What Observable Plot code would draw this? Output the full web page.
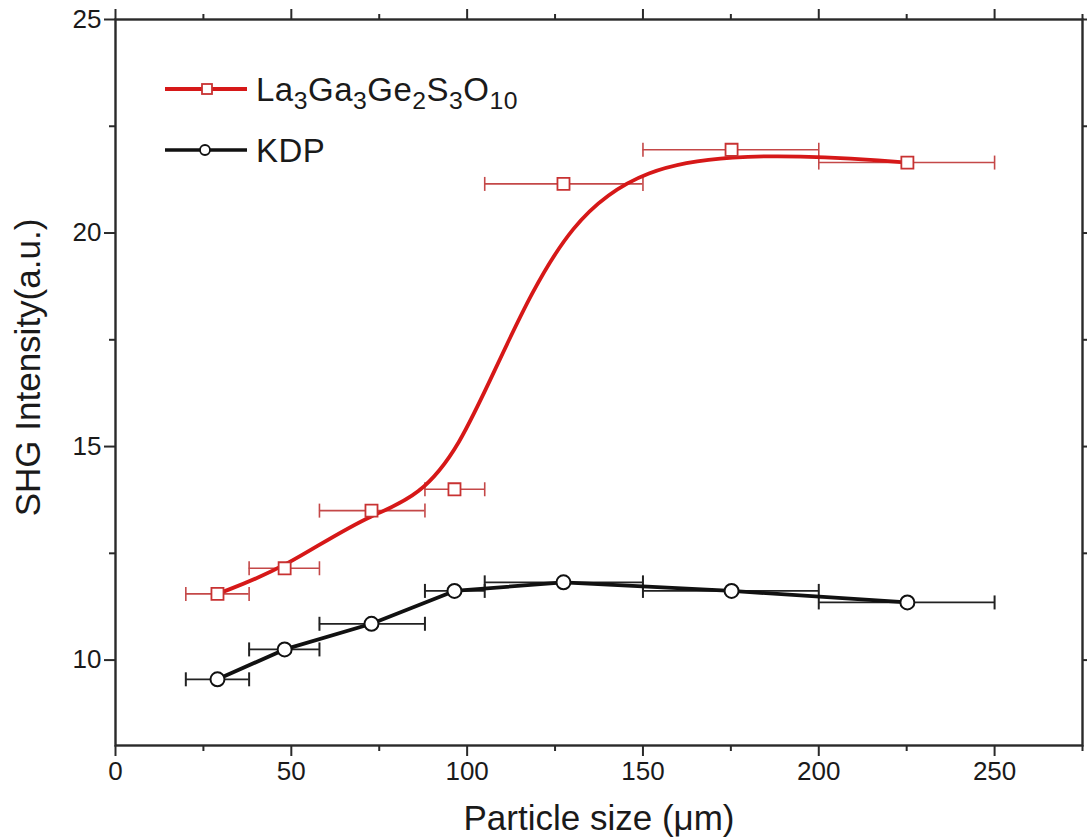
<!DOCTYPE html>
<html>
<head>
<meta charset="utf-8">
<script src="https://cdn.jsdelivr.net/npm/d3@7"></script>
<script src="https://cdn.jsdelivr.net/npm/@observablehq/plot@0.6"></script>
<style>
  html, body { margin: 0; padding: 0; background: #fff; }
  #wrap { position: relative; width: 1087px; height: 837px; font-family: "Liberation Sans", Arial, sans-serif; color: #1a1a1a; }
  .lg { position: absolute; left: 165px; display: flex; align-items: center; height: 40px; font-size: 33px; letter-spacing: 0.5px; line-height: 1; white-space: nowrap; }
  .lg svg { margin-right: 9px; }
  .lg sub { font-size: 0.75em; vertical-align: -0.32em; line-height: 0; }
</style>
</head>
<body>
<div id="wrap"></div>
<script>
// ---- data ----
const particleSize = [29, 48.1, 72.8, 96.4, 127.4, 175.2, 225.2];   // µm, centre of each size range
const sizeLow      = [20, 38, 58, 88, 105, 150, 200];
const sizeHigh     = [38, 58, 88, 105, 150, 200, 250];
const lggsoSHG     = [11.55, 12.15, 13.5, 14.0, 21.15, 21.95, 21.65]; // La3Ga3Ge2S3O10
const kdpSHG       = [9.55, 10.25, 10.85, 11.62, 11.82, 11.62, 11.35]; // KDP
const xMajorTicks  = [0, 50, 100, 150, 200, 250];
const xMinorTicks  = [25, 75, 125, 175, 225, 275];
const yMajorTicks  = [10, 15, 20, 25];
const yMinorTicks  = [12.5, 17.5, 22.5];
const xTitle = "Particle size (\u03bcm)";
const yTitle = "SHG Intensity(a.u.)";

const rows = particleSize.map((s, i) => ({
  size: s, lo: sizeLow[i], hi: sizeHigh[i], lggso: lggsoSHG[i], kdp: kdpSHG[i]
}));

const RED = "rgb(214,24,24)";
const RED_ERR = "rgb(196,72,72)";
const RED_MARK = "rgb(200,50,50)";
const BLACK = "#111";
const AXIS = "#2a2a2a";

// vertical bar symbol for the error-bar caps
const vbar = {
  draw(context, size) {
    const h = Math.sqrt(size / Math.PI);
    context.moveTo(0, -h);
    context.lineTo(0, h);
  }
};

const axisCommon = { label: null, stroke: AXIS, strokeWidth: 2, fontSize: 26 };

const chart = Plot.plot({
  width: 1087,
  height: 837,
  marginLeft: 115,
  marginRight: 5,
  marginTop: 19,
  marginBottom: 92,
  style: { fontFamily: "Liberation Sans, Arial, sans-serif", color: "#1a1a1a", background: "#fff", overflow: "visible" },
  x: { domain: [0, 275] },
  y: { domain: [8, 25] },
  marks: [
    // error bars
    Plot.ruleY(rows, { y: "lggso", x1: "lo", x2: "hi", stroke: RED_ERR, strokeWidth: 1.6 }),
    Plot.dot(rows, { x: "lo", y: "lggso", symbol: vbar, r: 7, fill: "none", stroke: RED_ERR, strokeWidth: 1.6 }),
    Plot.dot(rows, { x: "hi", y: "lggso", symbol: vbar, r: 7, fill: "none", stroke: RED_ERR, strokeWidth: 1.6 }),
    Plot.ruleY(rows, { y: "kdp", x1: "lo", x2: "hi", stroke: "#222", strokeWidth: 1.8 }),
    Plot.dot(rows, { x: "lo", y: "kdp", symbol: vbar, r: 7, fill: "none", stroke: "#222", strokeWidth: 2 }),
    Plot.dot(rows, { x: "hi", y: "kdp", symbol: vbar, r: 7, fill: "none", stroke: "#222", strokeWidth: 2 }),
    // curves
    Plot.line(rows, { x: "size", y: "lggso", curve: "basis", stroke: RED, strokeWidth: 3.8 }),
    Plot.line(rows, { x: "size", y: "kdp", curve: "linear", stroke: BLACK, strokeWidth: 3.8 }),
    // markers
    Plot.dot(rows, { x: "size", y: "lggso", symbol: "square", r: 6.8, fill: "white", stroke: RED_MARK, strokeWidth: 1.8 }),
    Plot.dot(rows, { x: "size", y: "kdp", symbol: "circle", r: 7, fill: "white", stroke: BLACK, strokeWidth: 2 }),
    // axes
    Plot.axisX({ ...axisCommon, ticks: xMajorTicks, tickSize: 11, tickPadding: 5, tickFormat: d => String(d) }),
    Plot.axisX({ ...axisCommon, ticks: xMinorTicks, tickSize: 6, text: null }),
    Plot.axisX({ ...axisCommon, anchor: "top", ticks: xMajorTicks, tickSize: 11, text: null }),
    Plot.axisX({ ...axisCommon, anchor: "top", ticks: xMinorTicks, tickSize: 6, text: null }),
    Plot.axisY({ ...axisCommon, ticks: yMajorTicks, tickSize: 11, tickPadding: 3, tickFormat: d => String(d) }),
    Plot.axisY({ ...axisCommon, ticks: yMinorTicks, tickSize: 6, text: null }),
    Plot.axisY({ ...axisCommon, anchor: "right", ticks: yMajorTicks, tickSize: 11, text: null }),
    Plot.axisY({ ...axisCommon, anchor: "right", ticks: yMinorTicks, tickSize: 6, text: null }),
    Plot.frame({ stroke: AXIS, strokeWidth: 2.4 }),
    // axis titles
    Plot.text([xTitle], { frameAnchor: "bottom", dy: 73, fontSize: 35, textAnchor: "middle", lineAnchor: "middle", fill: "#1a1a1a" }),
    Plot.text([yTitle], { frameAnchor: "left", dx: -87, dy: -15, rotate: -90, fontSize: 35, textAnchor: "middle", lineAnchor: "middle", fill: "#1a1a1a" })
  ]
});

const wrap = document.getElementById("wrap");
wrap.appendChild(chart);

// legend placed inside the plot area
const legendItems = [
  { html: "La<sub>3</sub>Ga<sub>3</sub>Ge<sub>2</sub>S<sub>3</sub>O<sub>10</sub>", color: RED, mark: "square", top: 69 },
  { html: "KDP", color: BLACK, mark: "circle", top: 130 }
];
for (const it of legendItems) {
  const row = document.createElement("div");
  row.className = "lg";
  row.style.top = it.top + "px";
  const markSvg = it.mark === "square"
    ? `<rect x="37" y="5" width="10" height="10" fill="white" stroke="${RED_MARK}" stroke-width="1.8"/>`
    : `<circle cx="40" cy="10" r="5" fill="white" stroke="${BLACK}" stroke-width="1.8"/>`;
  row.innerHTML = `<svg width="82" height="20" viewBox="0 0 82 20"><line x1="0" y1="10" x2="82" y2="10" stroke="${it.color}" stroke-width="${it.mark === "square" ? 4 : 3.4}"/>${markSvg}</svg><span>${it.html}</span>`;
  wrap.appendChild(row);
}
</script>
</body>
</html>
